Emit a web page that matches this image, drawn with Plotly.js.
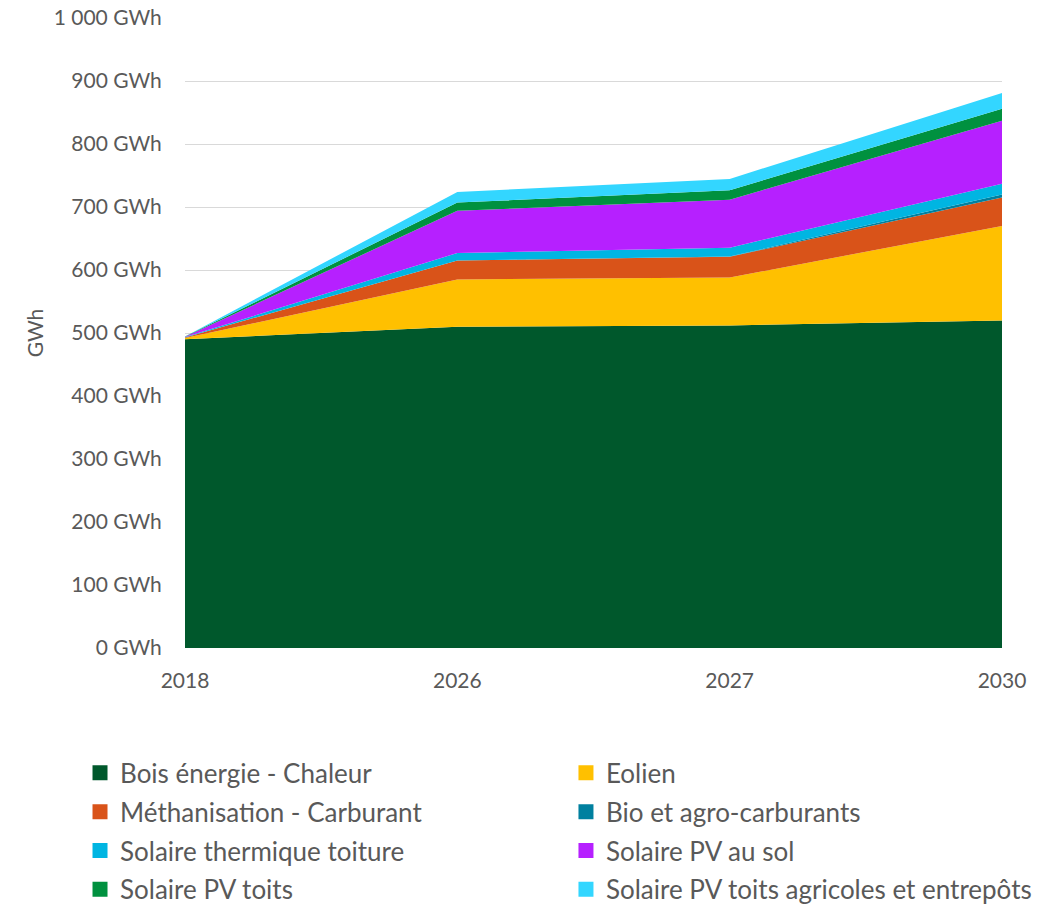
<!DOCTYPE html>
<html>
<head>
<meta charset="utf-8">
<script src="https://cdn.plot.ly/plotly-3.0.1.min.js"></script>
<style>html,body{margin:0;padding:0;background:#fff;}#chart{width:1062px;height:905px;}</style>
</head>
<body>
<div id="chart"></div>
<script>
const years = ["2018", "2026", "2027", "2030"];
const boisEnergie = [490, 510, 512, 520];
const eolien = [2, 75, 76, 150];
const methanisation = [1, 30, 33, 45];
const bioCarburants = [0, 0, 0.5, 5];
const solaireThermique = [0.5, 12, 14, 17];
const pvSol = [0.5, 67, 76, 100];
const pvToits = [0.3, 13, 15, 19];
const pvAgricoles = [0.3, 17, 18, 25];

const seriesNames = ["Bois énergie - Chaleur", "Eolien", "Méthanisation - Carburant", "Bio et agro-carburants",
  "Solaire thermique toiture", "Solaire PV au sol", "Solaire PV toits", "Solaire PV toits agricoles et entrepôts"];
const seriesValues = [boisEnergie, eolien, methanisation, bioCarburants, solaireThermique, pvSol, pvToits, pvAgricoles];
const colors = ["#00582C", "#FFC000", "#D95319", "#00809F", "#00B5E2", "#B620FF", "#00913F", "#33D6FF"];

const yTickVals = [0,100,200,300,400,500,600,700,800,900,1000];
const yTickText = ["0 GWh","100 GWh","200 GWh","300 GWh","400 GWh","500 GWh","600 GWh","700 GWh","800 GWh","900 GWh","1 000 GWh"];

const traces = [];
seriesNames.forEach((n, i) => {
  traces.push({
    type: "scatter", x: years, y: seriesValues[i], name: n, stackgroup: "one",
    mode: "lines", line: {width: 0, color: colors[i]}, fillcolor: colors[i],
    showlegend: false, hoverinfo: "x+y+name"
  });
});
// legend entries (square markers), two columns
seriesNames.forEach((n, i) => {
  traces.push({
    type: "scatter", x: [null], y: [null], name: n, mode: "markers",
    marker: {symbol: "square", size: 15, color: colors[i]},
    legend: (i % 2 === 0) ? "legend" : "legend2",
    legendgroup: "g" + i, showlegend: true
  });
});

const FONT = "Lato, 'Open Sans', sans-serif";
const legendCommon = {
  orientation: "v", traceorder: "grouped", tracegroupgap: 2,
  font: {family: FONT, size: 26, color: "#595959"},
  bgcolor: "rgba(0,0,0,0)", xanchor: "left", yanchor: "top",
  y: -0.161, itemwidth: 30
};

const layout = {
  width: 1062, height: 905,
  margin: {l: 185, r: 60, t: 18, b: 257, pad: 0, autoexpand: false},
  paper_bgcolor: "#fff", plot_bgcolor: "#fff",
  font: {family: FONT, color: "#595959"},
  showlegend: true,
  xaxis: {
    type: "category", range: [0, 3], showgrid: false, zeroline: false,
    showline: false, ticks: "outside", ticklen: 14, tickcolor: "rgba(0,0,0,0)",
    tickangle: 0, tickfont: {family: FONT, size: 21, color: "#595959"}, automargin: false
  },
  yaxis: {
    range: [0, 1000], tickvals: yTickVals, ticktext: yTickText,
    showgrid: true, gridcolor: "#D9D9D9", gridwidth: 1, zeroline: false,
    showline: false, ticks: "outside", ticklen: 18, tickcolor: "rgba(0,0,0,0)",
    tickfont: {family: FONT, size: 21, color: "#595959"}, automargin: false,
    title: {text: "GWh", font: {family: FONT, size: 21, color: "#595959"}, standoff: 4}
  },
  legend: Object.assign({}, legendCommon, {x: -0.1285}),
  legend2: Object.assign({}, legendCommon, {x: 0.4663})
};

Plotly.newPlot("chart", traces, layout, {displayModeBar: false, staticPlot: true});
</script>
</body>
</html>
